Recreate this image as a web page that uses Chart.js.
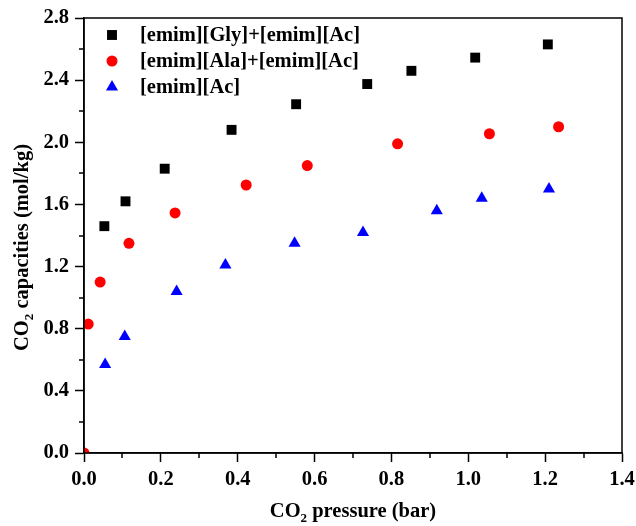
<!DOCTYPE html>
<html>
<head>
<meta charset="utf-8">
<script src="https://cdn.jsdelivr.net/npm/chart.js@4/dist/chart.umd.min.js"></script>
<style>
  body { margin: 0; background: #fff; }
  #wrap { width: 636px; height: 526px; }
</style>
</head>
<body>
<div id="wrap"><canvas id="co2-chart" width="636" height="526"></canvas></div>
<script>
// absorption isotherms, CO2 pressure (bar) vs capacity (mol/kg)
const seriesNames = ['[emim][Gly]+[emim][Ac]', '[emim][Ala]+[emim][Ac]', '[emim][Ac]'];

const glyPressure = [0.053, 0.108, 0.210, 0.384, 0.552, 0.737, 0.852, 1.018, 1.207];
const glyCapacity = [1.46, 1.62, 1.83, 2.08, 2.245, 2.375, 2.46, 2.545, 2.63];

const alaPressure = [0, 0.011, 0.042, 0.117, 0.237, 0.422, 0.581, 0.816, 1.055, 1.235];
const alaCapacity = [0, 0.83, 1.10, 1.35, 1.545, 1.725, 1.85, 1.99, 2.055, 2.10];

const acPressure = [0, 0.055, 0.106, 0.241, 0.368, 0.548, 0.726, 0.918, 1.035, 1.210];
const acCapacity = [0, 0.57, 0.75, 1.04, 1.21, 1.35, 1.42, 1.56, 1.64, 1.70];

const xTickValues = [0.0, 0.2, 0.4, 0.6, 0.8, 1.0, 1.2, 1.4];
const yTickValues = [0.0, 0.4, 0.8, 1.2, 1.6, 2.0, 2.4, 2.8];

const seriesColors = ['#000000', '#ff0000', '#0000ff'];
const seriesShapes = ['rect', 'circle', 'triangle'];
const seriesRadius = [7, 5.5, 7];

const FONT = '"Liberation Serif", "Times New Roman", serif';
const FONT_SIZE = 20.5;

function toPoints(xs, ys) {
    return xs.map((x, i) => ({ x: x, y: ys[i] }));
}

// same geometry as Chart.js point styles, for the legend markers
function drawMarker(ctx, shape, r, x, y) {
    ctx.beginPath();
    if (shape === 'rect') {
        const s = Math.SQRT1_2 * r;
        ctx.rect(x - s, y - s, 2 * s, 2 * s);
    } else if (shape === 'circle') {
        ctx.arc(x, y, r, 0, Math.PI * 2);
    } else {
        for (let k = 0; k < 3; k++) {
            const a = -Math.PI / 2 + k * 2 * Math.PI / 3;
            const px = x + Math.cos(a) * r, py = y + Math.sin(a) * r;
            if (k === 0) ctx.moveTo(px, py); else ctx.lineTo(px, py);
        }
        ctx.closePath();
    }
    ctx.fill();
}

// text with a subscript part, centred on (0,0) along the baseline
function drawSubText(ctx, parts) {
    const big = 'bold ' + FONT_SIZE + 'px ' + FONT;
    const small = 'bold 13px ' + FONT;
    let total = 0;
    parts.forEach(p => { ctx.font = p[1] ? small : big; total += ctx.measureText(p[0]).width; });
    let x = -total / 2;
    ctx.textAlign = 'left';
    ctx.textBaseline = 'alphabetic';
    parts.forEach(p => {
        ctx.font = p[1] ? small : big;
        ctx.fillText(p[0], x, p[1] ? 5 : 0);
        x += ctx.measureText(p[0]).width;
    });
}

const frameAndLegend = {
    id: 'frameAndLegend',
    afterDraw(chart) {
        const ctx = chart.ctx;
        const area = chart.chartArea;
        const xs = chart.scales.x, ys = chart.scales.y;
        ctx.save();
        ctx.strokeStyle = '#000';
        ctx.fillStyle = '#000';
        ctx.lineWidth = 1.5;
        ctx.strokeRect(area.left, area.top, area.right - area.left, area.bottom - area.top);

        // minor ticks halfway between the labelled ones
        ctx.beginPath();
        for (let i = 0; i < xTickValues.length - 1; i++) {
            const px = Math.round(xs.getPixelForValue((xTickValues[i] + xTickValues[i + 1]) / 2));
            ctx.moveTo(px, area.bottom);
            ctx.lineTo(px, area.bottom + 5);
        }
        for (let i = 0; i < yTickValues.length - 1; i++) {
            const py = Math.round(ys.getPixelForValue((yTickValues[i] + yTickValues[i + 1]) / 2));
            ctx.moveTo(area.left, py);
            ctx.lineTo(area.left - 5, py);
        }
        ctx.stroke();

        // legend
        ctx.font = 'bold ' + FONT_SIZE + 'px ' + FONT;
        ctx.textAlign = 'left';
        ctx.textBaseline = 'middle';
        seriesNames.forEach((name, i) => {
            const y = area.top + 17 + i * 26;
            ctx.fillStyle = seriesColors[i];
            drawMarker(ctx, seriesShapes[i], seriesRadius[i], area.left + 28, y);
            ctx.fillStyle = '#000';
            ctx.fillText(name, area.left + 56, y + 1);
        });

        // axis titles
        ctx.save();
        ctx.translate((area.left + area.right) / 2, chart.height - 9);
        drawSubText(ctx, [['CO', false], ['2', true], [' pressure (bar)', false]]);
        ctx.restore();

        ctx.save();
        ctx.translate(28, (area.top + area.bottom) / 2 + 12);
        ctx.rotate(-Math.PI / 2);
        drawSubText(ctx, [['CO', false], ['2', true], [' capacities (mol/kg)', false]]);
        ctx.restore();

        ctx.restore();
    }
};

const tickFont = { family: FONT, size: FONT_SIZE, weight: 'bold' };
const gridOpts = { drawOnChartArea: false, drawTicks: true, tickLength: 9, tickWidth: 1.5, tickColor: '#000' };

new Chart(document.getElementById('co2-chart'), {
    type: 'scatter',
    data: {
        datasets: [
            { label: seriesNames[0], data: toPoints(glyPressure, glyCapacity) },
            { label: seriesNames[1], data: toPoints(alaPressure, alaCapacity) },
            { label: seriesNames[2], data: toPoints(acPressure, acCapacity) }
        ].map((ds, i) => Object.assign(ds, {
            pointStyle: seriesShapes[i],
            pointRadius: seriesRadius[i],
            pointHoverRadius: seriesRadius[i],
            backgroundColor: seriesColors[i],
            borderColor: seriesColors[i],
            borderWidth: 0,
            clip: 0
        }))
    },
    options: {
        responsive: false,
        animation: false,
        layout: { padding: { top: 18, right: 14, left: 0, bottom: 0 } },
        plugins: {
            legend: { display: false },
            tooltip: { enabled: false }
        },
        scales: {
            x: {
                type: 'linear',
                min: 0,
                max: 1.4,
                afterBuildTicks: s => { s.ticks = xTickValues.map(v => ({ value: v })); },
                afterFit: s => { s.height = 73; s.paddingLeft = 0; s.paddingRight = 0; },
                grid: gridOpts,
                border: { color: '#000', width: 1.5 },
                ticks: { font: tickFont, color: '#000', padding: 5, maxRotation: 0, autoSkip: false, callback: v => v.toFixed(1) }
            },
            y: {
                type: 'linear',
                min: 0,
                max: 2.8,
                afterBuildTicks: s => { s.ticks = yTickValues.map(v => ({ value: v })); },
                afterFit: s => { s.width = 84; s.paddingTop = 0; s.paddingBottom = 0; },
                grid: gridOpts,
                border: { color: '#000', width: 1.5 },
                ticks: { font: tickFont, color: '#000', padding: 6, autoSkip: false, callback: v => v.toFixed(1) }
            }
        }
    },
    plugins: [frameAndLegend]
});
</script>
</body>
</html>
